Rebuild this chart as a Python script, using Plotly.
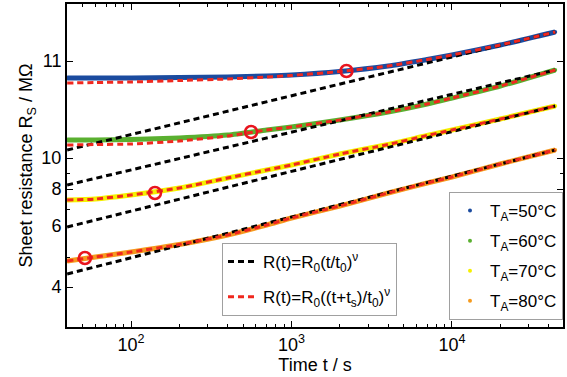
import plotly.graph_objects as go

# time axis samples (s)
t = [40, 60, 100, 200, 400, 700, 1000, 2000, 4000, 7000, 10000, 20000, 44000]

# measured curves (axis units, offset display scale)
r50 = [249, 249, 249, 249.5, 250, 251, 252, 255.5, 261, 267.5, 272, 282, 295]
r60 = [187, 187, 187.5, 189, 192, 197, 200, 207, 215, 223, 229, 241, 257]
r70 = [127, 128, 132, 139, 149, 157, 162, 173, 182.5, 191.5, 197, 208, 221]
r80 = [66, 70, 75, 82.5, 92, 102, 109, 121, 134, 144, 150, 163, 177]

# fits with shift time ts (red dashed)
f50 = [244, 244.5, 245, 246.5, 248, 250, 251.5, 255.5, 261, 267.5, 272, 282, 295]
f60 = [182, 182.5, 183, 186, 191, 197, 200, 207, 215, 223, 229, 241, 257]
f70 = r70
f80 = r80

# pure power law fits (black dashed), straight on log-log
t_pl = [40, 44000]
p50 = [177, 295]
p60 = [142, 257]
p70 = [100, 221]
p80 = [53, 177]

# marked ts points (circles)
ts_t = [2200, 560, 141, 51.6]
ts_r = [256, 195, 134, 69]

# y tick labels
ytick_vals = [40, 101, 138, 169, 266]
ytick_text = ["4", "6", "8", "10", "11"]
yminor_vals = [70, 118, 154]

labels = ["T<sub>A</sub>=50°C", "T<sub>A</sub>=60°C", "T<sub>A</sub>=70°C", "T<sub>A</sub>=80°C"]
colors = ["#1b4b9f", "#5ab030", "#f5ef00", "#f59a1e"]
data = [r50, r60, r70, r80]
fits = [f50, f60, f70, f80]
pls = [p50, p60, p70, p80]

fig = go.Figure()
for d, c in zip(data, colors):
    fig.add_trace(go.Scatter(x=t, y=d, mode="lines", line=dict(color=c, width=5, shape="spline", smoothing=0.6),
                             showlegend=False, hoverinfo="skip"))
for i, (d, c, lab) in enumerate(zip(data, colors, labels)):
    fig.add_trace(go.Scatter(x=t, y=d, mode="markers", marker=dict(color=c, size=4),
                             name=lab, legend="legend", legendgroup="a%d" % i))
for i, p in enumerate(pls):
    fig.add_trace(go.Scatter(x=t_pl, y=p, mode="lines",
                             line=dict(color="black", width=3, dash="6px,4px"),
                             name="R(t)=R<sub>0</sub>(t/t<sub>0</sub>)<sup>ν</sup>",
                             showlegend=(i == 0), legend="legend2", legendgroup="pl"))
for i, f in enumerate(fits):
    fig.add_trace(go.Scatter(x=t, y=f, mode="lines",
                             line=dict(color="#f0281e", width=3, dash="6px,4px",
                                       shape="spline", smoothing=0.6),
                             name="R(t)=R<sub>0</sub>((t+t<sub>s</sub>)/t<sub>0</sub>)<sup>ν</sup>",
                             showlegend=(i == 0), legend="legend2", legendgroup="fit"))
fig.add_trace(go.Scatter(x=ts_t, y=ts_r, mode="markers",
                         marker=dict(symbol="circle-open", size=12, color="#e8141e",
                                     line=dict(width=2.5, color="#e8141e")),
                         showlegend=False))

fam = "Arial, Liberation Sans, sans-serif"
font = dict(family=fam, size=18, color="black")
fig.update_layout(
    width=567, height=377,
    margin=dict(l=67, r=4, t=4, b=50, autoexpand=False),
    paper_bgcolor="white", plot_bgcolor="white",
    font=font,
    legend=dict(x=1, y=0.418, xanchor="right", yanchor="top",
                bgcolor="white", bordercolor="#a0a0a0", borderwidth=1,
                font=dict(family=fam, size=17), itemwidth=30, tracegroupgap=5),
    legend2=dict(x=0.3125, y=0.26, xanchor="left", yanchor="top",
                 bgcolor="white", bordercolor="#a0a0a0", borderwidth=1,
                 font=dict(family=fam, size=17), itemwidth=30, tracegroupgap=10),
)
fig.update_xaxes(type="log", range=[1.601, 4.692], automargin=False,
                 tickvals=[100, 1000, 10000],
                 ticktext=["10<sup>2</sup>", "10<sup>3</sup>", "10<sup>4</sup>"],
                 ticks="inside", ticklen=6, tickwidth=1, tickcolor="black",
                 showline=True, linecolor="black", linewidth=2, mirror="allticks",
                 showgrid=False, zeroline=False,
                 minor=dict(tickvals=[50, 60, 70, 80, 90, 200, 300, 400, 500, 600, 700, 800, 900,
                                      2000, 3000, 4000, 5000, 6000, 7000, 8000, 9000,
                                      20000, 30000, 40000],
                            ticks="inside", ticklen=3, tickcolor="black", showgrid=False),
                 title=dict(text="Time t / s", standoff=0, font=dict(size=18)),
                 tickfont=dict(size=18))
fig.update_yaxes(range=[0, 323], automargin=False,
                 tickvals=ytick_vals, ticktext=ytick_text,
                 ticks="inside", ticklen=6, tickwidth=1, tickcolor="black",
                 showline=True, linecolor="black", linewidth=2, mirror="allticks",
                 showgrid=False, zeroline=False,
                 minor=dict(tickvals=yminor_vals, ticks="inside", ticklen=3,
                            tickcolor="black", showgrid=False),
                 title=dict(text="Sheet resistance R<sub>S</sub> / MΩ", standoff=4,
                            font=dict(size=18)),
                 tickfont=dict(size=18))

fig.write_html("out.html", config={"displayModeBar": False},
               post_script="document.body.style.margin='0';")
